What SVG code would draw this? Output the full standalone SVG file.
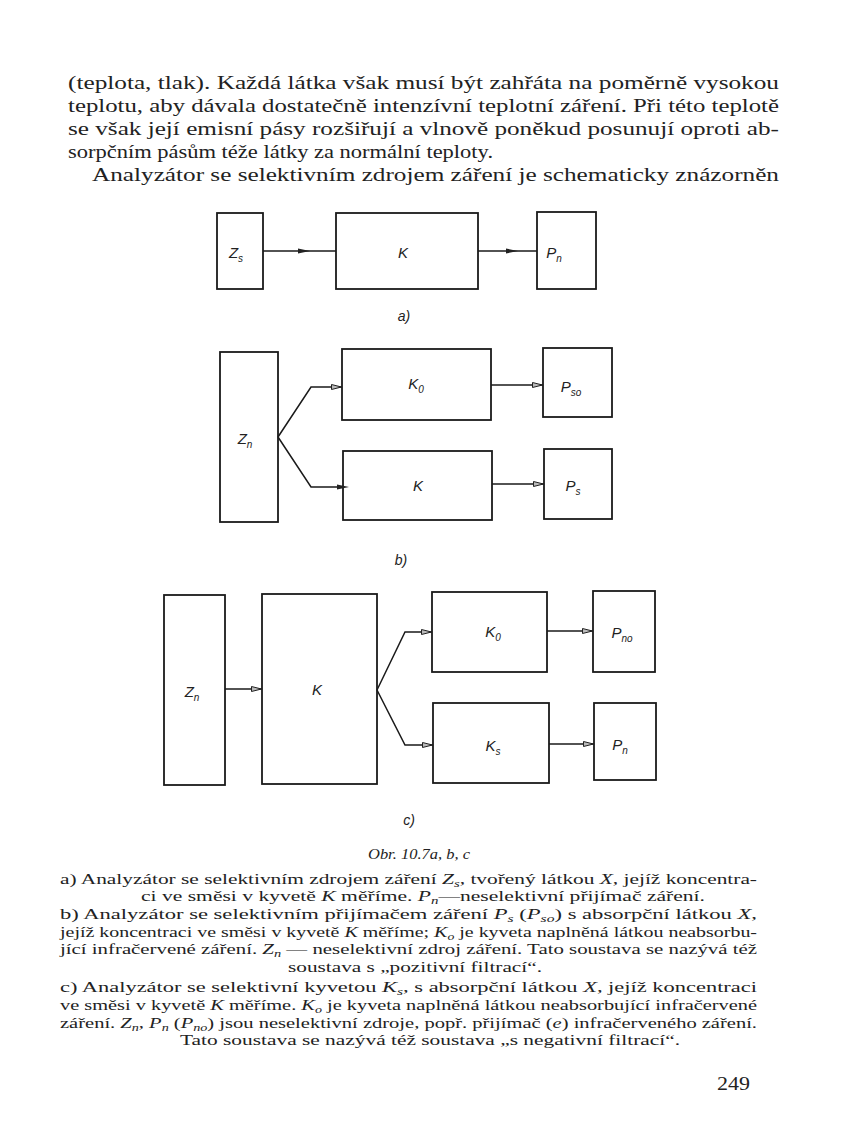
<svg xmlns="http://www.w3.org/2000/svg" width="841" height="1122" viewBox="0 0 841 1122">
<style>
.body{font-family:"Liberation Serif","DejaVu Serif",serif;font-size:18.5px;fill:#222}
.cap{font-family:"Liberation Serif","DejaVu Serif",serif;font-size:14.5px;fill:#222}
.i{font-style:italic}
.sb{font-size:10px;font-style:italic}
.box{fill:none;stroke:#1a1a1a;stroke-width:1.8}
.ln{fill:none;stroke:#1a1a1a;stroke-width:1.5}
.lbl{font-family:"Liberation Sans","DejaVu Sans",sans-serif;font-style:italic;font-size:15px;fill:#222;text-anchor:middle}
.lsub{font-size:10px}
.fig{font-family:"Liberation Sans","DejaVu Sans",sans-serif;font-style:italic;font-size:14px;fill:#222;text-anchor:middle}
</style>
<defs>
<marker id="af" viewBox="0 0 12 6" refX="6" refY="3" markerWidth="12" markerHeight="6" markerUnits="userSpaceOnUse" orient="auto">
<polygon points="0,0.5 12,3 0,5.5" fill="#222"/>
</marker>
<marker id="ao" viewBox="0 0 11 6" refX="11" refY="3" markerWidth="11" markerHeight="6" markerUnits="userSpaceOnUse" orient="auto">
<polygon points="0.5,0.5 10.5,3 0.5,5.5" fill="#bbb" stroke="#222" stroke-width="1"/>
</marker>
</defs>
<rect width="841" height="1122" fill="#fff"/>

<g id="text-top" class="body">
<text x="68" y="89" textLength="711" lengthAdjust="spacingAndGlyphs">(teplota, tlak). Každá látka však musí být zahřáta na poměrně vysokou</text>
<text x="68" y="112" textLength="711" lengthAdjust="spacingAndGlyphs">teplotu, aby dávala dostatečně intenzívní teplotní záření. Při této teplotě</text>
<text x="68" y="135" textLength="711" lengthAdjust="spacingAndGlyphs">se však její emisní pásy rozšiřují a vlnově poněkud posunují oproti ab-</text>
<text x="68" y="158" textLength="425" lengthAdjust="spacingAndGlyphs">sorpčním pásům téže látky za normální teploty.</text>
<text x="92" y="181" textLength="687" lengthAdjust="spacingAndGlyphs">Analyzátor se selektivním zdrojem záření je schematicky znázorněn</text>
</g>

<!-- Diagram a -->
<g id="a-Zs"><rect class="box" x="217" y="213" width="46" height="76"/><text class="lbl" x="236" y="258">Z<tspan class="lsub" dy="4">s</tspan></text></g>
<g id="a-K"><rect class="box" x="336" y="213" width="142" height="76"/><text class="lbl" x="403" y="258">K</text></g>
<g id="a-Pn"><rect class="box" x="537" y="212" width="59" height="77"/><text class="lbl" x="554" y="258">P<tspan class="lsub" dy="4">n</tspan></text></g>
<text class="fig" x="404" y="321">a)</text>

<!-- Diagram b -->
<g id="b-Zn"><rect class="box" x="220" y="352" width="58" height="170"/><text class="lbl" x="245" y="444">Z<tspan class="lsub" dy="4">n</tspan></text></g>
<g id="b-K0"><rect class="box" x="342" y="349" width="149" height="71"/><text class="lbl" x="416" y="389">K<tspan class="lsub" dy="4">0</tspan></text></g>
<g id="b-K"><rect class="box" x="343" y="451" width="149" height="69"/><text class="lbl" x="418" y="491">K</text></g>
<g id="b-Pso"><rect class="box" x="543" y="348" width="69" height="69"/><text class="lbl" x="571" y="392">P<tspan class="lsub" dy="4">so</tspan></text></g>
<g id="b-Ps"><rect class="box" x="544" y="449" width="68" height="70"/><text class="lbl" x="573" y="491">P<tspan class="lsub" dy="4">s</tspan></text></g>
<text class="fig" x="401" y="565">b)</text>

<!-- Diagram c -->
<g id="c-Zn"><rect class="box" x="164" y="595" width="61" height="190"/><text class="lbl" x="192" y="697">Z<tspan class="lsub" dy="4">n</tspan></text></g>
<g id="c-K"><rect class="box" x="262" y="594" width="115" height="190"/><text class="lbl" x="317" y="695">K</text></g>
<g id="c-K0"><rect class="box" x="432" y="592" width="115" height="80"/><text class="lbl" x="493" y="637">K<tspan class="lsub" dy="4">0</tspan></text></g>
<g id="c-Ks"><rect class="box" x="433" y="703" width="116" height="80"/><text class="lbl" x="493" y="751">K<tspan class="lsub" dy="4">s</tspan></text></g>
<g id="c-Pno"><rect class="box" x="593" y="591" width="62" height="81"/><text class="lbl" x="622" y="638">P<tspan class="lsub" dy="4">no</tspan></text></g>
<g id="c-Pn"><rect class="box" x="594" y="703" width="62" height="77"/><text class="lbl" x="620" y="750">P<tspan class="lsub" dy="4">n</tspan></text></g>
<text class="fig" x="409" y="825">c)</text>

<g id="connectors" class="ln">
<path d="M263,251 H304 H336" marker-mid="url(#af)"/>
<path d="M478,251 H512 H537" marker-mid="url(#af)"/>
<path d="M278,437 L311,387 H342" marker-end="url(#ao)"/>
<path d="M278,437 L311,487 H343" marker-end="url(#af)"/>
<path d="M491,385 H543" marker-end="url(#ao)"/>
<path d="M492,484 H544" marker-end="url(#ao)"/>
<path d="M225,689 H262" marker-end="url(#ao)"/>
<path d="M377,690 L405,632 H432" marker-end="url(#ao)"/>
<path d="M377,690 L405,745 H433" marker-end="url(#ao)"/>
<path d="M547,631 H593" marker-end="url(#ao)"/>
<path d="M549,744 H594" marker-end="url(#ao)"/>
</g>

<g id="caption" class="cap">
<text x="368" y="859" class="i" textLength="102" lengthAdjust="spacingAndGlyphs">Obr. 10.7a, b, c</text>
<text x="60" y="884" textLength="697" lengthAdjust="spacingAndGlyphs">a) Analyzátor se selektivním zdrojem záření <tspan class="i">Z</tspan><tspan class="sb" dy="3">s</tspan><tspan dy="-3">, tvořený látkou </tspan><tspan class="i">X</tspan>, jejíž koncentra-</text>
<text x="141" y="901" textLength="564" lengthAdjust="spacingAndGlyphs">ci ve směsi v kyvetě <tspan class="i">K</tspan> měříme. <tspan class="i">P</tspan><tspan class="sb" dy="3">n</tspan><tspan dy="-3">—neselektivní přijímač záření.</tspan></text>
<text x="60" y="919" textLength="697" lengthAdjust="spacingAndGlyphs">b) Analyzátor se selektivním přijímačem záření <tspan class="i">P</tspan><tspan class="sb" dy="3">s</tspan><tspan dy="-3"> (</tspan><tspan class="i">P</tspan><tspan class="sb" dy="3">so</tspan><tspan dy="-3">) s absorpční látkou </tspan><tspan class="i">X</tspan>,</text>
<text x="60" y="937" textLength="697" lengthAdjust="spacingAndGlyphs">jejíž koncentraci ve směsi v kyvetě <tspan class="i">K</tspan> měříme; <tspan class="i">K</tspan><tspan class="sb" dy="3">o</tspan><tspan dy="-3"> je kyveta naplněná látkou neabsorbu-</tspan></text>
<text x="60" y="954" textLength="697" lengthAdjust="spacingAndGlyphs">jící infračervené záření. <tspan class="i">Z</tspan><tspan class="sb" dy="3">n</tspan><tspan dy="-3"> — neselektivní zdroj záření. Tato soustava se nazývá též</tspan></text>
<text x="288" y="972" textLength="254" lengthAdjust="spacingAndGlyphs">soustava s „pozitivní filtrací“.</text>
<text x="60" y="992" textLength="697" lengthAdjust="spacingAndGlyphs">c) Analyzátor se selektivní kyvetou <tspan class="i">K</tspan><tspan class="sb" dy="3">s</tspan><tspan dy="-3">, s absorpční látkou </tspan><tspan class="i">X</tspan>, jejíž koncentraci</text>
<text x="60" y="1010" textLength="697" lengthAdjust="spacingAndGlyphs">ve směsi v kyvetě <tspan class="i">K</tspan> měříme. <tspan class="i">K</tspan><tspan class="sb" dy="3">o</tspan><tspan dy="-3"> je kyveta naplněná látkou neabsorbující infračervené</tspan></text>
<text x="60" y="1028" textLength="697" lengthAdjust="spacingAndGlyphs">záření. <tspan class="i">Z</tspan><tspan class="sb" dy="3">n</tspan><tspan dy="-3">, </tspan><tspan class="i">P</tspan><tspan class="sb" dy="3">n</tspan><tspan dy="-3"> (</tspan><tspan class="i">P</tspan><tspan class="sb" dy="3">no</tspan><tspan dy="-3">) jsou neselektivní zdroje, popř. přijímač (</tspan><tspan class="i">e</tspan>) infračerveného záření.</text>
<text x="180" y="1045" textLength="500" lengthAdjust="spacingAndGlyphs">Tato soustava se nazývá též soustava „s negativní filtrací“.</text>
</g>

<text id="page-number" class="body" x="717" y="1090" font-size="19" textLength="33" lengthAdjust="spacingAndGlyphs">249</text>
</svg>
